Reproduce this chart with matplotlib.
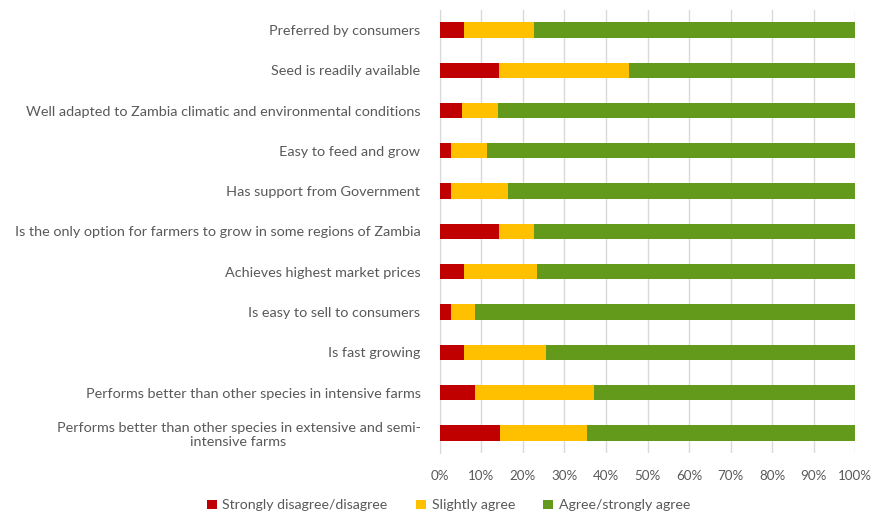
import matplotlib.pyplot as plt
import numpy as np

categories = [
    "Preferred by consumers",
    "Seed is readily available",
    "Well adapted to Zambia climatic and environmental conditions",
    "Easy to feed and grow",
    "Has support from Government",
    "Is the only option for farmers to grow in some regions of Zambia",
    "Achieves highest market prices",
    "Is easy to sell to consumers",
    "Is fast growing",
    "Performs better than other species in intensive farms",
    "Performs better than other species in extensive and semi-\nintensive farms",
]
disagree = [5.7, 14.2, 5.4, 2.8, 2.6, 14.2, 5.7, 2.8, 5.7, 8.5, 14.5]
slightly = [17.0, 31.4, 8.5, 8.6, 13.8, 8.5, 17.6, 5.7, 19.8, 28.7, 20.8]
agree = [100 - a - b for a, b in zip(disagree, slightly)]

series_names = ["Strongly disagree/disagree", "Slightly agree", "Agree/strongly agree"]
colors = ["#C00000", "#FFC000", "#639A1C"]

plt.rcParams['font.family'] = ['Lato', 'DejaVu Sans']
text_color = "#595959"

fig = plt.figure(figsize=(8.71, 5.18), dpi=100)
ax = fig.add_axes([0.505, 0.1255, 0.477, 0.8555])

y = np.arange(len(categories))
left = np.zeros(len(categories))
for vals, name, c in zip([disagree, slightly, agree], series_names, colors):
    ax.barh(y, vals, left=left, height=0.38, color=c, label=name, zorder=3)
    left += np.array(vals)

ax.set_ylim(len(categories) - 0.5, -0.5)
ax.set_xlim(0, 100)
ax.set_xticks(np.arange(0, 101, 10))
ax.set_xticklabels([f"{v}%" for v in range(0, 101, 10)])
ax.set_yticks(y)
ax.set_yticklabels(categories, multialignment='center')
ax.tick_params(axis='y', length=0, labelsize=10.4, labelcolor=text_color, pad=14)
ax.tick_params(axis='x', length=0, labelsize=9.6, labelcolor=text_color, pad=12)
ax.grid(axis='x', color="#D9D9D9", linewidth=1, zorder=0)
for s in ['top', 'right', 'bottom']:
    ax.spines[s].set_visible(False)
ax.spines['left'].set_color("#D9D9D9")

fig.legend(loc='lower center', bbox_to_anchor=(0.515, -0.012), ncol=3, frameon=False,
           fontsize=10.2, handlelength=0.7, handleheight=0.7, handletextpad=0.4,
           columnspacing=2.0, labelcolor=text_color)

fig.savefig("out.png", dpi=100)
